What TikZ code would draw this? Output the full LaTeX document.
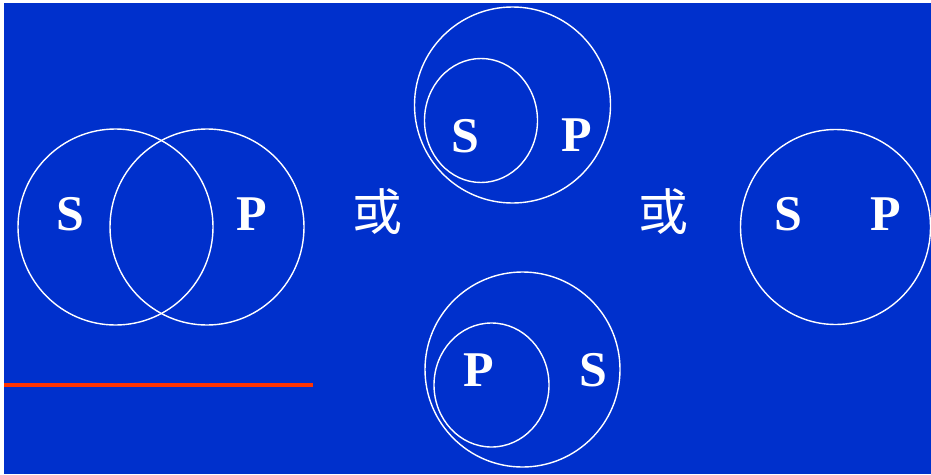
\documentclass[tikz,border=0pt]{standalone}
\usepackage{fontspec}
\setmainfont{Liberation Serif}
\newfontfamily\cjk{Noto Sans CJK SC}
\definecolor{bgblue}{RGB}{0,48,204}
\definecolor{redline}{RGB}{255,51,0}
\begin{document}
\begin{tikzpicture}[x=1pt,y=-1pt,
  ring/.style={draw=white,line width=1.4pt},
  letter/.style={text=white,font=\fontsize{50}{50}\selectfont\bfseries,inner sep=0pt},
  orchar/.style={text=white,font=\cjk\fontsize{50}{50}\selectfont,inner sep=0pt}]
\useasboundingbox (0,0) rectangle (931,474);
\fill[white] (0,0) rectangle (931,474);
\fill[bgblue] (4,3) rectangle (931,474);
% left Venn (overlap)
\draw[ring] (115.5,227) ellipse [x radius=97.5,y radius=98];
\draw[ring] (207,227) ellipse [x radius=97,y radius=98];
\node[letter] (s1) at (70,214) {S};
\node[letter] (p1) at (252,214) {P};
% or
\node[orchar] (or1) at (377,212) {或};
\node[orchar] (or2) at (663,212) {或};
% top: S inside P
\draw[ring] (512.5,105) ellipse [x radius=98,y radius=98];
\draw[ring] (481,120.5) ellipse [x radius=56.5,y radius=62];
\node[letter] (s2) at (465,136) {S};
\node[letter] (p2) at (577,135) {P};
% bottom: P inside S
\draw[ring] (522.5,369.5) ellipse [x radius=97.5,y radius=97.5];
\draw[ring] (491.5,385) ellipse [x radius=57.5,y radius=62];
\node[letter] (p3) at (479,370) {P};
\node[letter] (s3) at (593,370) {S};
% right: S = P
\draw[ring] (835.5,227) ellipse [x radius=95,y radius=97.5];
\node[letter] (s4) at (788,214) {S};
\node[letter] (p4) at (886,214) {P};
% red line
\draw[redline,line width=4pt] (4,385) -- (313,385);
\end{tikzpicture}
\end{document}
